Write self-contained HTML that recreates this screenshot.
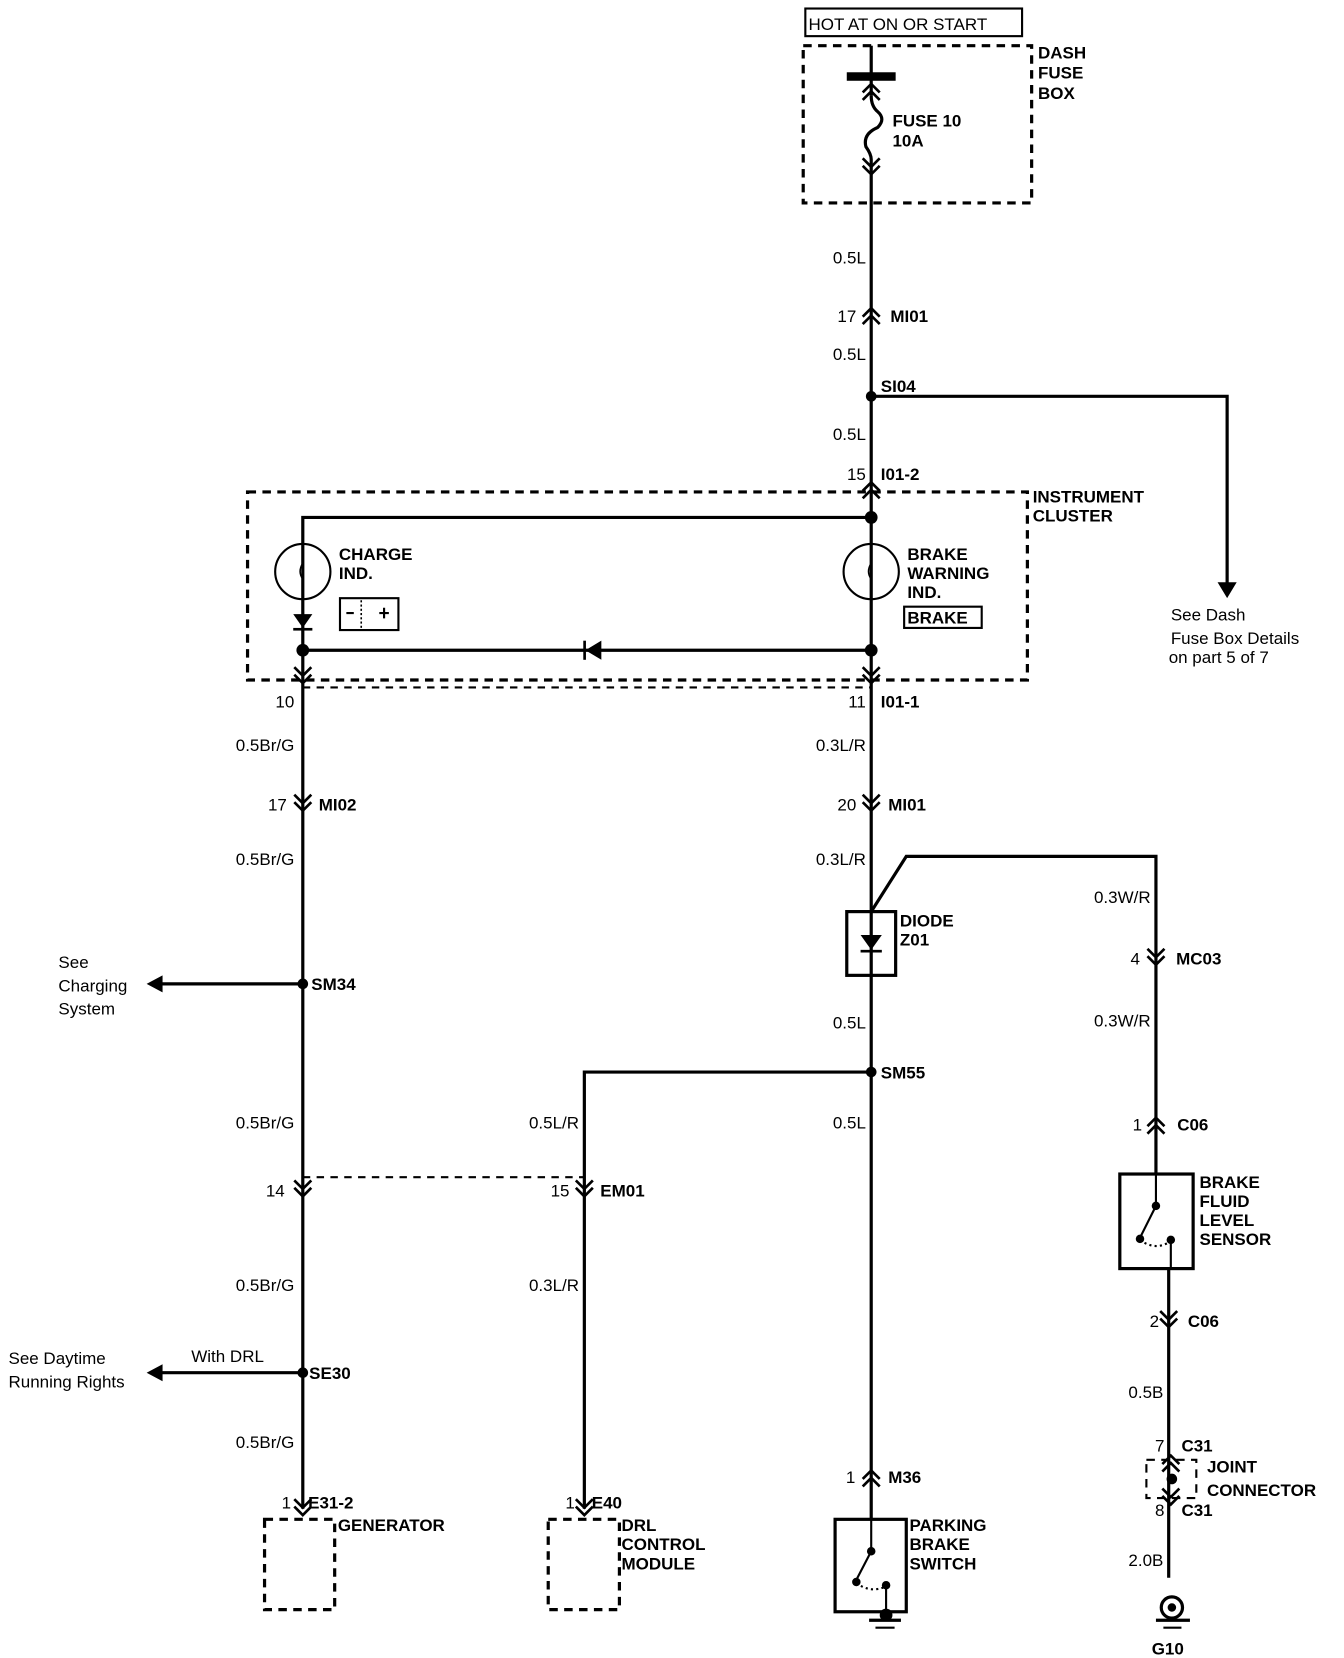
<!DOCTYPE html>
<html><head><meta charset="utf-8"><style>
html,body{margin:0;padding:0;background:#fff;}
svg{display:block;}
text{font-family:"Liberation Sans",Arial,sans-serif;font-weight:bold;font-size:16px;fill:#000;}
.n{font-weight:normal;}
</style></head><body>
<svg width="1344" height="1658" viewBox="0 0 1265 1560.5" xmlns="http://www.w3.org/2000/svg">
<defs>
<g id="up"><polyline points="-8,2 0,-6 8,2" fill="none" stroke="#000" stroke-width="2.5"/><polyline points="-8,9 0,1 8,9" fill="none" stroke="#000" stroke-width="2.5"/></g>
<g id="dn"><polyline points="-8,-9 0,-1 8,-9" fill="none" stroke="#000" stroke-width="2.5"/><polyline points="-8,-2 0,6 8,-2" fill="none" stroke="#000" stroke-width="2.5"/></g>
</defs>
<g stroke="#000" fill="none" stroke-width="3">
<!-- HOT box -->
<rect x="758" y="8" width="204" height="26" stroke-width="2"/>
<!-- dash fuse box -->
<rect x="756" y="43" width="215" height="148" stroke-dasharray="8,6"/>
<!-- main vertical -->
<line x1="820" y1="43" x2="820" y2="90"/>
<path d="M820 90 Q820 100 826 105 Q834 112 826 120 Q812 126 815 138 Q820 145 820 150 L820 1430"/>
<!-- SI04 branch -->
<polyline points="820,373 1155,373 1155,550"/>
<!-- instrument cluster -->
<rect x="233" y="463" width="734" height="177" stroke-dasharray="8,6"/>
<line x1="285" y1="647" x2="820" y2="647" stroke-dasharray="7,6" stroke-width="2"/>
<polyline points="820,487 285,487 285,1420"/>
<line x1="285" y1="612" x2="820" y2="612"/>
<circle cx="285" cy="538" r="26" stroke-width="2"/>
<circle cx="820" cy="538" r="26" stroke-width="2"/>
<rect x="320" y="563" width="55" height="30" stroke-width="2"/>
<rect x="851" y="571" width="73" height="20" stroke-width="2"/>
<!-- MI01 bend -->
<polyline points="820,858 853,806 1088,806 1088,1105"/>
<rect x="797" y="858" width="46" height="60"/>
<!-- SM55 branch -->
<polyline points="820,1009 550,1009 550,1420"/>
<line x1="285" y1="1108" x2="550" y2="1108" stroke-dasharray="7,6" stroke-width="2"/>
<!-- arrows left -->
<line x1="285" y1="926" x2="150" y2="926"/>
<line x1="285" y1="1292" x2="150" y2="1292"/>
<!-- boxes -->
<rect x="249" y="1430" width="66" height="85" stroke-dasharray="8,6"/>
<rect x="516" y="1430" width="67" height="85" stroke-dasharray="8,6"/>
<rect x="786" y="1430" width="67" height="87"/>
<rect x="1054" y="1105" width="69" height="89"/>
<line x1="1100" y1="1194" x2="1100" y2="1485"/>
<rect x="1079" y="1374" width="47" height="36" stroke-dasharray="8,6" stroke-width="2"/>
<!-- ground G10 -->
<circle cx="1103" cy="1513" r="10"/>
<line x1="1088" y1="1525" x2="1120" y2="1525"/>
<line x1="1095" y1="1532" x2="1112" y2="1532" stroke-width="2"/>
<!-- parking switch internals -->
<line x1="820" y1="1430" x2="820" y2="1460" stroke-width="2"/>
<line x1="820" y1="1460" x2="806" y2="1487" stroke-width="2"/>
<path d="M806 1490 Q820 1500 834 1493" stroke-width="2" stroke-dasharray="2,3"/>
<line x1="834" y1="1493" x2="834" y2="1518" stroke-width="2"/>
<line x1="818" y1="1525" x2="848" y2="1525"/>
<line x1="824" y1="1532" x2="842" y2="1532" stroke-width="2"/>
<!-- brake fluid switch internals -->
<line x1="1088" y1="1105" x2="1088" y2="1135" stroke-width="2"/>
<line x1="1088" y1="1135" x2="1073" y2="1165" stroke-width="2"/>
<path d="M1073 1167 Q1088 1178 1102 1168" stroke-width="2" stroke-dasharray="2,3"/>
<line x1="1102" y1="1168" x2="1102" y2="1194" stroke-width="2"/>
</g>
<g fill="#000">
<rect x="797" y="68" width="46" height="8"/>
<circle cx="820" cy="373" r="5"/>
<circle cx="820" cy="487" r="6"/>
<circle cx="285" cy="612" r="6"/>
<circle cx="820" cy="612" r="6"/>
<circle cx="285" cy="926" r="5"/>
<circle cx="285" cy="1292" r="5"/>
<circle cx="820" cy="1009" r="5"/>
<circle cx="1103" cy="1392" r="5"/>
<circle cx="1103" cy="1513" r="4"/>
<circle cx="820" cy="1460" r="4"/><circle cx="806" cy="1489" r="4"/><circle cx="834" cy="1492" r="4"/>
<circle cx="834" cy="1520" r="6"/>
<circle cx="1088" cy="1135" r="4"/><circle cx="1073" cy="1166" r="4"/><circle cx="1102" cy="1167" r="4"/>
<polygon points="1146,548 1164,548 1155,563"/>
<polygon points="138,926 153,918 153,934"/>
<polygon points="138,1292 153,1284 153,1300"/>
<polygon points="276,578 294,578 285,591"/><rect x="276" y="591" width="18" height="2.5"/>
<polygon points="551,612 566,603 566,621"/><rect x="549" y="603" width="2.5" height="18"/>
<polygon points="810,880 830,880 820,894"/><rect x="810" y="894" width="20" height="2.5"/>
</g>
<!-- lamp filaments -->
<g stroke="#000" fill="none" stroke-width="1.5">
<path d="M285 512 L285 530 Q280 538 285 545 L285 564"/>
<path d="M820 512 L820 530 Q815 538 820 545 L820 564"/>
<line x1="340" y1="565" x2="340" y2="591" stroke-dasharray="2,2"/>
<line x1="326" y1="577" x2="333" y2="577" stroke-width="2"/>
<line x1="357" y1="577" x2="366" y2="577" stroke-width="2"/><line x1="361.5" y1="572" x2="361.5" y2="582" stroke-width="2"/>
</g>
<!-- connectors -->
<use href="#up" x="820" y="85"/>
<use href="#dn" x="820" y="158"/>
<use href="#up" x="820" y="296"/>
<use href="#up" x="820" y="460"/>
<use href="#dn" x="285" y="637"/>
<use href="#dn" x="820" y="637"/>
<use href="#dn" x="285" y="757"/>
<use href="#dn" x="820" y="757"/>
<use href="#dn" x="1088" y="902"/>
<use href="#up" x="1088" y="1058"/>
<use href="#dn" x="285" y="1120"/>
<use href="#dn" x="550" y="1120"/>
<use href="#dn" x="285" y="1420"/>
<use href="#dn" x="550" y="1420"/>
<use href="#up" x="820" y="1390"/>
<use href="#dn" x="1100" y="1243"/>
<use href="#up" x="1102" y="1376"/>
<use href="#dn" x="1102" y="1410"/>
<!-- texts -->
<text x="761" y="28" class="n" font-size="17">HOT AT ON OR START</text>
<text x="977" y="55">DASH</text><text x="977" y="74">FUSE</text><text x="977" y="93">BOX</text>
<text x="840" y="119">FUSE 10</text><text x="840" y="138">10A</text>
<g class="n" text-anchor="end">
<text x="815" y="248" class="n">0.5L</text>
<text x="806" y="303" class="n">17</text>
<text x="815" y="339" class="n">0.5L</text>
<text x="815" y="414" class="n">0.5L</text>
<text x="815" y="452" class="n">15</text>
<text x="277" y="666" class="n">10</text>
<text x="815" y="666" class="n">11</text>
<text x="277" y="707" class="n">0.5Br/G</text>
<text x="815" y="707" class="n">0.3L/R</text>
<text x="270" y="763" class="n">17</text>
<text x="806" y="763" class="n">20</text>
<text x="277" y="814" class="n">0.5Br/G</text>
<text x="815" y="814" class="n">0.3L/R</text>
<text x="1083" y="850" class="n">0.3W/R</text>
<text x="1073" y="908" class="n">4</text>
<text x="1083" y="966" class="n">0.3W/R</text>
<text x="815" y="968" class="n">0.5L</text>
<text x="277" y="1062" class="n">0.5Br/G</text>
<text x="545" y="1062" class="n">0.5L/R</text>
<text x="815" y="1062" class="n">0.5L</text>
<text x="1075" y="1064" class="n">1</text>
<text x="268" y="1126" class="n">14</text>
<text x="536" y="1126" class="n">15</text>
<text x="277" y="1215" class="n">0.5Br/G</text>
<text x="545" y="1215" class="n">0.3L/R</text>
<text x="1091" y="1249" class="n">2</text>
<text x="1095" y="1316" class="n">0.5B</text>
<text x="277" y="1363" class="n">0.5Br/G</text>
<text x="1096" y="1366" class="n">7</text>
<text x="805" y="1396" class="n">1</text>
<text x="274" y="1420" class="n">1</text>
<text x="541" y="1420" class="n">1</text>
<text x="1096" y="1427" class="n">8</text>
<text x="1095" y="1474" class="n">2.0B</text>
</g>
<text x="838" y="303">MI01</text>
<text x="829" y="369">SI04</text>
<text x="829" y="452">I01-2</text>
<text x="972" y="473">INSTRUMENT</text><text x="972" y="491">CLUSTER</text>
<text x="319" y="527">CHARGE</text><text x="319" y="545">IND.</text>
<text x="854" y="527">BRAKE</text><text x="854" y="545">WARNING</text><text x="854" y="563">IND.</text>
<text x="854" y="587">BRAKE</text>
<text x="1102" y="584" class="n">See Dash</text>
<text x="1102" y="606" class="n">Fuse Box Details</text>
<text x="1100" y="624" class="n" font-size="15">on part 5 of 7</text>
<text x="829" y="666">I01-1</text>
<text x="300" y="763">MI02</text>
<text x="836" y="763">MI01</text>
<text x="847" y="872">DIODE</text><text x="847" y="890">Z01</text>
<text x="1107" y="908">MC03</text>
<text x="55" y="911" class="n">See</text><text x="55" y="933" class="n">Charging</text><text x="55" y="955" class="n">System</text>
<text x="293" y="932">SM34</text>
<text x="829" y="1015">SM55</text>
<text x="1108" y="1064">C06</text>
<text x="565" y="1126">EM01</text>
<text x="1129" y="1118">BRAKE</text><text x="1129" y="1136">FLUID</text><text x="1129" y="1154">LEVEL</text><text x="1129" y="1172">SENSOR</text>
<text x="1118" y="1249">C06</text>
<text x="180" y="1282" class="n">With DRL</text>
<text x="8" y="1284" class="n">See Daytime</text><text x="8" y="1306" class="n">Running Rights</text>
<text x="291" y="1298">SE30</text>
<text x="1112" y="1366">C31</text>
<text x="1136" y="1386">JOINT</text><text x="1136" y="1408">CONNECTOR</text>
<text x="836" y="1396">M36</text>
<text x="290" y="1420">E31-2</text>
<text x="557" y="1420">E40</text>
<text x="1112" y="1427">C31</text>
<text x="318" y="1441">GENERATOR</text>
<text x="585" y="1441">DRL</text><text x="585" y="1459">CONTROL</text><text x="585" y="1477">MODULE</text>
<text x="856" y="1441">PARKING</text><text x="856" y="1459">BRAKE</text><text x="856" y="1477">SWITCH</text>
<text x="1084" y="1557">G10</text>
</svg>
</body></html>
